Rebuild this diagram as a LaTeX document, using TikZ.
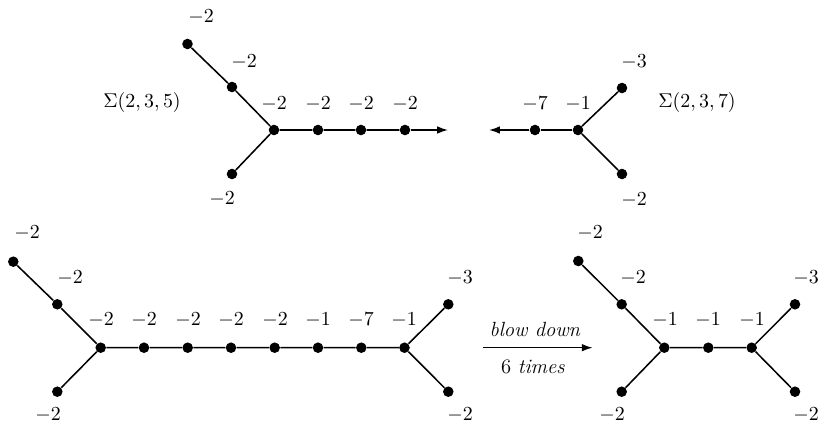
\documentclass[tikz,border=0pt]{standalone}
\usetikzlibrary{arrows.meta}
\begin{document}
\begin{tikzpicture}[x=0.55pt,y=-0.55pt,
  dot/.style={circle,fill=black,inner sep=0pt,minimum size=5.8pt},
  lab/.style={inner sep=0pt,font=\fontsize{11.3}{14}\selectfont},
  edge/.style={line width=0.85pt},
  arr/.style={line width=0.85pt,-{Latex[length=6pt,width=4.2pt]}}]
\useasboundingbox (0,0) rectangle (820,424);
% ---- top left: Sigma(2,3,5)
\node[dot] (A0) at (274,130) {};
\node[dot] (A1) at (318,130) {};
\node[dot] (A2) at (361,130) {};
\node[dot] (A3) at (405,130) {};
\coordinate (Aend) at (448,130);
\node[dot] (A4) at (232,87) {};
\node[dot] (A5) at (187.5,44) {};
\node[dot] (A6) at (232,174) {};
\draw[edge] (A5) -- (A4) -- (A0) -- (A1) -- (A2) -- (A3);
\draw[edge] (A6) -- (A0);
\draw[arr] (A3) -- (Aend);
\node[lab] (lA5) at (201,17) {$-2$};
\node[lab] (lA4) at (244,62) {$-2$};
\node[lab] (lA0) at (274,104) {$-2$};
\node[lab] (lA1) at (318,104) {$-2$};
\node[lab] (lA2) at (361,104) {$-2$};
\node[lab] (lA3) at (405,104) {$-2$};
\node[lab] (lA6) at (222,199) {$-2$};
\node[lab] (sA) at (142,103) {$\Sigma(2,3,5)$};
% ---- top right: Sigma(2,3,7)
\node[dot] (B0) at (578,130) {};
\node[dot] (B1) at (535,130) {};
\coordinate (Bend) at (489,130);
\node[dot] (B2) at (622,88) {};
\node[dot] (B3) at (622,174) {};
\draw[edge] (B2) -- (B0) -- (B3);
\draw[edge] (B0) -- (B1);
\draw[arr] (B1) -- (Bend);
\node[lab] (lB1) at (535,104) {$-7$};
\node[lab] (lB0) at (578,104) {$-1$};
\node[lab] (lB2) at (634,62) {$-3$};
\node[lab] (lB3) at (634,200) {$-2$};
\node[lab] (sB) at (697,103) {$\Sigma(2,3,7)$};
% ---- bottom left: long plumbing
\node[dot] (C0) at (100.7,347.7) {};
\node[dot] (C1) at (144,347.7) {};
\node[dot] (C2) at (187.7,347.7) {};
\node[dot] (C3) at (231,347.7) {};
\node[dot] (C4) at (274.7,347.7) {};
\node[dot] (C5) at (318,347.7) {};
\node[dot] (C6) at (361.3,347.7) {};
\node[dot] (C7) at (404.5,347.7) {};
\node[dot] (Cu1) at (57.3,304.3) {};
\node[dot] (Cu2) at (13.3,261.7) {};
\node[dot] (Cd) at (57.3,391.7) {};
\node[dot] (Cr1) at (448.3,304.3) {};
\node[dot] (Cr2) at (448.3,391.7) {};
\draw[edge] (Cu2) -- (Cu1) -- (C0) -- (C1) -- (C2) -- (C3) -- (C4) -- (C5) -- (C6) -- (C7) -- (Cr1);
\draw[edge] (Cd) -- (C0);
\draw[edge] (C7) -- (Cr2);
\node[lab] (lCu2) at (27,233) {$-2$};
\node[lab] (lCu1) at (70,278) {$-2$};
\node[lab] (lC0) at (101,320) {$-2$};
\node[lab] (lC1) at (144,320) {$-2$};
\node[lab] (lC2) at (188,320) {$-2$};
\node[lab] (lC3) at (231,320) {$-2$};
\node[lab] (lC4) at (275,320) {$-2$};
\node[lab] (lC5) at (318,320) {$-1$};
\node[lab] (lC6) at (361,320) {$-7$};
\node[lab] (lC7) at (404,320) {$-1$};
\node[lab] (lCd) at (48,415) {$-2$};
\node[lab] (lCr1) at (460,278) {$-3$};
\node[lab] (lCr2) at (460,415) {$-2$};
% ---- arrow
\coordinate (Ps) at (482.7,347.7);
\coordinate (Pe) at (592.7,347.7);
\draw[arr] (Ps) -- (Pe);
\node[lab] (bd) at (535,329) {\textit{blow down}};
\node[lab] (st) at (533,367) {6 \textit{times}};
% ---- bottom right
\node[dot] (D0) at (664.3,347.7) {};
\node[dot] (D1) at (708.3,347.7) {};
\node[dot] (D2) at (751.7,347.7) {};
\node[dot] (Du1) at (621.7,304.3) {};
\node[dot] (Du2) at (578.3,261) {};
\node[dot] (Dd) at (621.7,391.7) {};
\node[dot] (Dr1) at (795,304.3) {};
\node[dot] (Dr2) at (795,391.7) {};
\draw[edge] (Du2) -- (Du1) -- (D0) -- (D1) -- (D2) -- (Dr1);
\draw[edge] (Dd) -- (D0);
\draw[edge] (D2) -- (Dr2);
\node[lab] (lDu2) at (590,233) {$-2$};
\node[lab] (lDu1) at (633,278) {$-2$};
\node[lab] (lD0) at (665,320) {$-1$};
\node[lab] (lD1) at (708,320) {$-1$};
\node[lab] (lD2) at (752,320) {$-1$};
\node[lab] (lDr1) at (806,278) {$-3$};
\node[lab] (lDd) at (612,415) {$-2$};
\node[lab] (lDr2) at (806,415) {$-2$};
\end{tikzpicture}
\end{document}
